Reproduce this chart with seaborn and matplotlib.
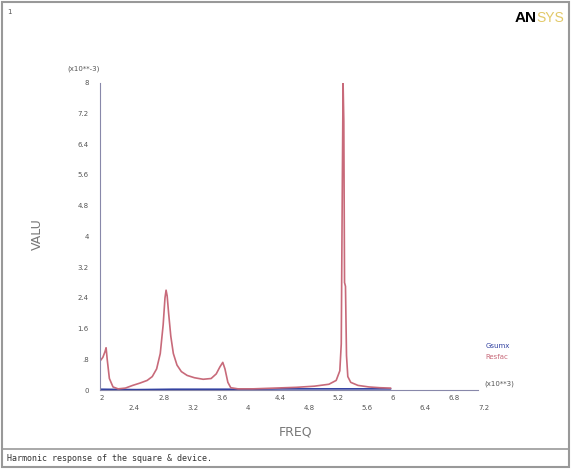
import numpy as np
import pandas as pd
import matplotlib
matplotlib.use("Agg")
import matplotlib.pyplot as plt
import seaborn as sns

# frequency (Hz) and response (x10**-3)
freq_red = [2000, 2040, 2070, 2085, 2100, 2130, 2180, 2250, 2350, 2450, 2550, 2650,
            2720, 2780, 2830, 2870, 2895, 2910, 2925, 2945, 2975, 3010, 3060, 3120,
            3200, 3300, 3420, 3530, 3600, 3650, 3690, 3720, 3760, 3800, 3900, 4100,
            4400, 4700, 4950, 5150, 5250, 5300, 5320, 5335, 5345, 5355, 5365, 5378,
            5392, 5410, 5450, 5550, 5700, 5850, 6000]
val_red = [0.75, 0.85, 1.0, 1.1, 0.8, 0.3, 0.08, 0.03, 0.05, 0.12, 0.18, 0.25,
           0.35, 0.55, 0.95, 1.7, 2.4, 2.6, 2.45, 2.0, 1.4, 0.95, 0.65, 0.48,
           0.38, 0.32, 0.28, 0.3, 0.42, 0.6, 0.72, 0.55, 0.2, 0.06, 0.03, 0.03,
           0.05, 0.07, 0.1, 0.15, 0.25, 0.5, 1.2, 5.5, 8.0, 7.0, 2.8, 2.7,
           0.9, 0.35, 0.2, 0.12, 0.08, 0.06, 0.05]
freq_blue = [2000, 2500, 3000, 3500, 4000, 4500, 5000, 5500, 6000]
val_blue = [0.02, 0.01, 0.02, 0.02, 0.02, 0.03, 0.03, 0.03, 0.03]

x_ticks = [2000, 2400, 2800, 3200, 3600, 4000, 4400, 4800, 5200, 5600, 6000, 6400, 6800, 7200]
x_labels = ["2", "2.4", "2.8", "3.2", "3.6", "4", "4.4", "4.8", "5.2", "5.6", "6", "6.4", "6.8", "7.2"]
y_ticks = [0, 0.8, 1.6, 2.4, 3.2, 4, 4.8, 5.6, 6.4, 7.2, 8]
y_labels = ["0", ".8", "1.6", "2.4", "3.2", "4", "4.8", "5.6", "6.4", "7.2", "8"]

df_red = pd.DataFrame({"FREQ": freq_red, "VALU": val_red})
df_blue = pd.DataFrame({"FREQ": freq_blue, "VALU": val_blue})

sns.set_style("white")
plt.rcParams['font.family'] = ['DejaVu Sans']

fig = plt.figure(figsize=(5.71, 4.69), dpi=100)
ax = fig.add_axes([0.175, 0.1684, 0.662, 0.655])

sns.lineplot(data=df_blue, x="FREQ", y="VALU", ax=ax, color="#3040a0", lw=1.2)
sns.lineplot(data=df_red, x="FREQ", y="VALU", ax=ax, color="#c86a7a", lw=1.2)

ax.set_xlim(2000, 7200)
ax.set_ylim(0, 8)
ax.set_xticks(x_ticks)
ax.set_xticklabels([])
ax.set_yticks(y_ticks)
ax.set_yticklabels(y_labels, fontsize=5, color="#555555")
ax.tick_params(axis="y", length=2, color="#888888", pad=6)
ax.tick_params(axis="x", length=0)
for s in ["top", "right"]:
    ax.spines[s].set_visible(False)
for s in ["left", "bottom"]:
    ax.spines[s].set_color("#8888aa")
    ax.spines[s].set_linewidth(0.8)
ax.set_xlabel("")
ax.set_ylabel("")

# staggered x tick labels, ANSYS style
for i, (t, lab) in enumerate(zip(x_ticks, x_labels)):
    dy = -6 if i % 2 == 0 else -13
    ax.annotate(lab, xy=(t, 0), xycoords="data", xytext=(0, dy), textcoords="offset points",
                ha="left", va="center", fontsize=5, color="#555555")

fig.text(0.118, 0.853, "(x10**-3)", fontsize=5, color="#555555", ha="left", va="center")
fig.text(0.848, 0.181, "(x10**3)", fontsize=5, color="#555555", ha="left", va="center")
fig.text(0.065, 0.50, "VALU", rotation=90, fontsize=9, color="#777777", ha="center", va="center")
fig.text(0.517, 0.079, "FREQ", fontsize=9, color="#777777", ha="center", va="center")

# legend as coloured labels
fig.text(0.85, 0.262, "Gsumx", fontsize=5, color="#3040a0", ha="left", va="center")
fig.text(0.85, 0.238, "Resfac", fontsize=5, color="#c86a7a", ha="left", va="center")

# window number and logo
fig.text(0.012, 0.975, "1", fontsize=5, color="#555555", ha="left", va="center")
fig.text(0.94, 0.962, "AN", fontsize=11, fontweight="bold", family="Liberation Sans",
         color="black", ha="right", va="center")
fig.text(0.94, 0.962, "SYS", fontsize=10, family="Liberation Sans",
         color="#e2c968", ha="left", va="center")

# bottom caption and frame
fig.text(0.012, 0.023, "Harmonic response of the square & device.", fontsize=6,
         family="DejaVu Sans Mono", color="#333333", ha="left", va="center")
fig.add_artist(plt.Rectangle((0.004, 0.004), 0.992, 0.992, transform=fig.transFigure,
                             fill=False, edgecolor="#999999", lw=1.5))
fig.add_artist(plt.Line2D([0.004, 0.996], [0.042, 0.042], transform=fig.transFigure,
                          color="#999999", lw=1.2))

fig.savefig("out.png", dpi=100)
